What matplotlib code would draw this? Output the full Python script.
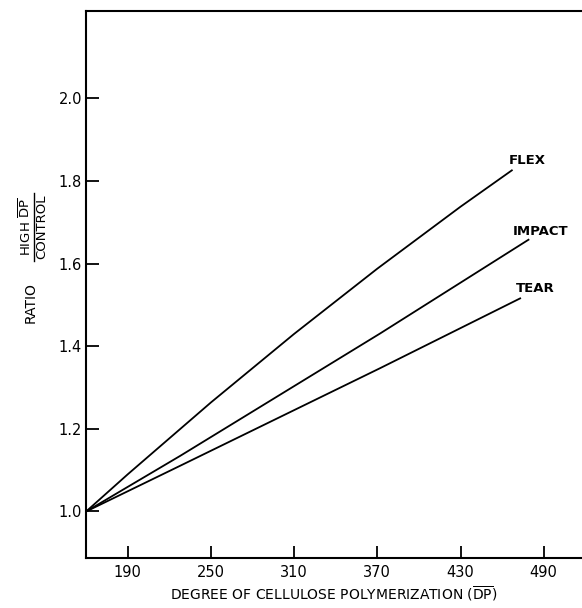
import matplotlib
matplotlib.use("Agg")
import matplotlib.pyplot as plt
from matplotlib.lines import Line2D

plt.rcParams['font.family'] = ['DejaVu Sans']
plt.rcParams['mathtext.fontset'] = 'dejavusans'

# data
flex_x = [160, 190, 250, 310, 370, 430, 467]
flex_y = [1.0, 1.09, 1.264, 1.43, 1.588, 1.738, 1.826]
impact_x = [160, 228, 372, 479]
impact_y = [1.0, 1.135, 1.431, 1.658]
tear_x = [160, 228, 372, 473]
tear_y = [1.0, 1.111, 1.347, 1.516]

x_ticks = [190, 250, 310, 370, 430, 490]
y_ticks = [1.0, 1.2, 1.4, 1.6, 1.8, 2.0]
y_tick_labels = ["1.0", "1.2", "1.4", "1.6", "1.8", "2.0"]

curve_labels = ["FLEX", "IMPACT", "TEAR"]
label_pos = [(465, 1.851), (468, 1.677), (470, 1.54)]

fig = plt.figure(figsize=(5.82, 6.08), dpi=100)
ax = fig.add_axes([0.148, 0.082, 0.852, 0.900])

for xs, ys in [(flex_x, flex_y), (impact_x, impact_y), (tear_x, tear_y)]:
    ax.plot(xs, ys, color="black", linewidth=1.3, solid_joinstyle="round")

for name, (lx, ly) in zip(curve_labels, label_pos):
    ax.text(lx, ly, name, ha="left", va="center", fontsize=9.5,
            fontweight="bold", color="black")

ax.set_xlim(160, 517.6)
ax.set_ylim(0.887, 2.212)
ax.set_xticks(x_ticks)
ax.set_xticklabels([str(v) for v in x_ticks])
ax.set_yticks(y_ticks)
ax.set_yticklabels(y_tick_labels)

ax.spines["right"].set_visible(False)
for s in ["left", "top", "bottom"]:
    ax.spines[s].set_linewidth(1.5)

ax.tick_params(axis="both", direction="in", length=9, width=1.3, labelsize=10.5)
ax.tick_params(axis="x", pad=5)
ax.tick_params(axis="y", pad=3)

ax.set_xlabel(r"DEGREE OF CELLULOSE POLYMERIZATION ($\overline{\mathrm{DP}}$)",
              fontsize=10, labelpad=3)

# y label: RATIO + stacked fraction, rotated
fig.text(31 / 582, 1 - 303 / 608, "RATIO", rotation=90, ha="center", va="center", fontsize=10)
fig.text(26 / 582, 1 - 227 / 608, r"HIGH $\overline{\mathrm{DP}}$", rotation=90,
         ha="center", va="center", fontsize=9.5)
fig.text(42 / 582, 1 - 227 / 608, "CONTROL", rotation=90, ha="center", va="center", fontsize=9.5)
fig.add_artist(Line2D([34 / 582, 34 / 582], [1 - 193 / 608, 1 - 261 / 608],
                      transform=fig.transFigure, color="black", linewidth=1.0))

fig.savefig("out.png", dpi=100)
